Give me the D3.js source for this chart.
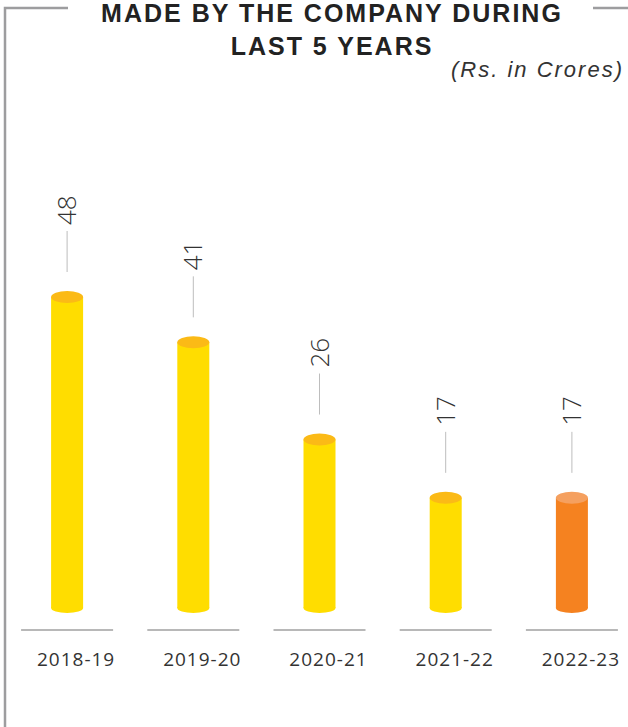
<!DOCTYPE html>
<html>
<head>
    <meta charset="UTF-8">
    <title>Made by the company during last 5 years</title>
    <script src="https://d3js.org/d3.v7.min.js"></script>
    <style>
        body { margin: 0; background: #fff; }
        text { fill: #333; }
    </style>
</head>
<body>
    <div id="chart"></div>
    <script>
        const years = ["2018-19", "2019-20", "2020-21", "2021-22", "2022-23"];
        const values = [48, 41, 26, 17, 17];
        const bodyColors = ["#FFDD00", "#FFDD00", "#FFDD00", "#FFDD00", "#F58220"];
        const topColors = ["#FBBA16", "#FBBA16", "#FBBA16", "#FBBA16", "#F5A05F"];

        const width = 628;
        const height = 727;

        const svg = d3.select('#chart')
            .append('svg')
            .attr('width', width)
            .attr('height', height);

        // frame
        svg.append('path')
            .attr('d', 'M5,727 V8 H68')
            .attr('fill', 'none')
            .attr('stroke', '#9d9d9f')
            .attr('stroke-width', 2.5);
        svg.append('line')
            .attr('x1', 593).attr('x2', 628)
            .attr('y1', 8).attr('y2', 8)
            .attr('stroke', '#9d9d9f')
            .attr('stroke-width', 2.5);

        // titles
        svg.append('text')
            .attr('x', 332).attr('y', 22)
            .attr('text-anchor', 'middle')
            .style('font', 'bold 25px "Liberation Sans", Arial, sans-serif')
            .style('letter-spacing', '2px')
            .style('fill', '#222')
            .text('MADE BY THE COMPANY DURING');
        svg.append('text')
            .attr('x', 332).attr('y', 55)
            .attr('text-anchor', 'middle')
            .style('font', 'bold 25px "Liberation Sans", Arial, sans-serif')
            .style('letter-spacing', '2px')
            .style('fill', '#222')
            .text('LAST 5 YEARS');
        svg.append('text')
            .attr('x', 624).attr('y', 77)
            .attr('text-anchor', 'end')
            .style('font', 'italic 22px "Liberation Sans", Arial, sans-serif')
            .style('letter-spacing', '2px')
            .text('(Rs. in Crores)');

        const xScale = d3.scaleBand()
            .domain(years)
            .range([4, 635])
            .padding(0);

        const yScale = d3.scaleLinear()
            .domain([0, 48])
            .range([608, 297]);

        const barW = 32;
        const data = years.map((y, i) => ({ year: y, value: values[i], body: bodyColors[i], top: topColors[i] }));
        const cx = d => xScale(d.year) + xScale.bandwidth() / 2;

        const g = svg.selectAll('.bar').data(data).enter().append('g').attr('class', 'bar');

        // base lines
        g.append('line')
            .attr('x1', d => cx(d) - 46)
            .attr('x2', d => cx(d) + 46)
            .attr('y1', 630).attr('y2', 630)
            .attr('stroke', '#a0a0a0')
            .attr('stroke-width', 1.5);

        // cylinder bottom
        g.append('ellipse')
            .attr('cx', cx)
            .attr('cy', yScale(0))
            .attr('rx', barW / 2)
            .attr('ry', 5)
            .attr('fill', d => d.body);

        // cylinder body
        g.append('rect')
            .attr('x', d => cx(d) - barW / 2)
            .attr('y', d => yScale(d.value))
            .attr('width', barW)
            .attr('height', d => yScale(0) - yScale(d.value))
            .attr('fill', d => d.body);

        // cylinder top
        g.append('ellipse')
            .attr('cx', cx)
            .attr('cy', d => yScale(d.value))
            .attr('rx', barW / 2)
            .attr('ry', 6)
            .attr('fill', d => d.top);

        // leader lines
        g.append('line')
            .attr('x1', cx).attr('x2', cx)
            .attr('y1', d => yScale(d.value) - 25)
            .attr('y2', d => yScale(d.value) - 66)
            .attr('stroke', '#bdbdbd')
            .attr('stroke-width', 1);

        // value labels (rotated)
        g.append('text')
            .attr('transform', d => 'translate(' + (cx(d) + 9) + ',' + (yScale(d.value) - 72) + ') rotate(-90)')
            .attr('text-anchor', 'start')
            .style('font', '300 26px "Open Sans", sans-serif')
            .text(d => d.value);

        // category labels
        g.append('text')
            .attr('x', d => cx(d) + 9)
            .attr('y', 666)
            .attr('text-anchor', 'middle')
            .style('font', '19px "Open Sans", sans-serif')
            .style('letter-spacing', '1px')
            .text(d => d.year);
    </script>
</body>
</html>
